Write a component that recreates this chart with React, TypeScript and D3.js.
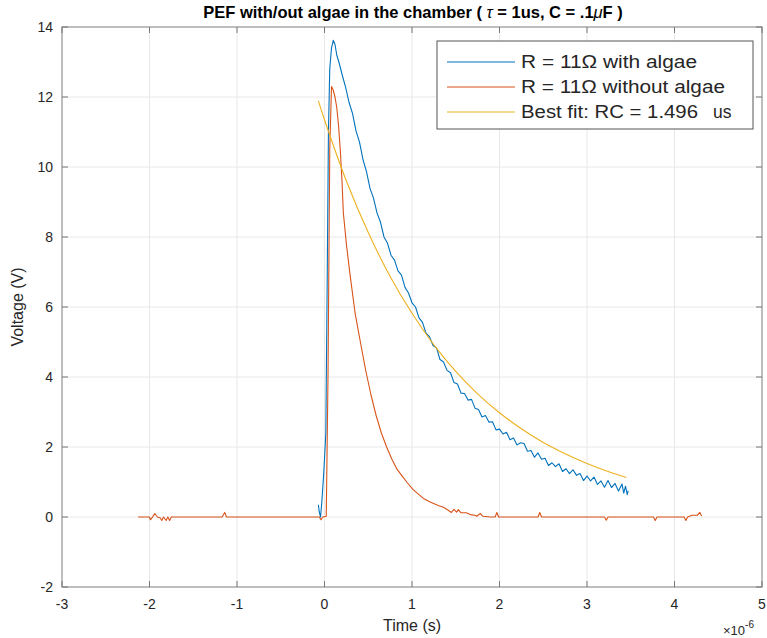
import React from 'react';
import * as d3 from 'd3';

const xTicks = [-3, -2, -1, 0, 1, 2, 3, 4, 5];
const yTicks = [-2, 0, 2, 4, 6, 8, 10, 12, 14];

// time in microseconds, voltage in V
const withAlgae: [number, number][] = [
  [-0.07, 0.35], [-0.06, 0.15], [-0.045, 0.0], [-0.03, 0.45], [-0.01, 1.2], [0.005, 1.9],
  [0.015, 2.4], [0.03, 6.5], [0.045, 11.0], [0.06, 12.8], [0.08, 13.4], [0.1, 13.62],
  [0.12, 13.5], [0.14, 13.2], [0.17, 12.95], [0.2, 12.65], [0.24, 12.29], [0.28, 11.85],
  [0.32, 11.53], [0.36, 11.03], [0.4, 10.71], [0.44, 10.21], [0.48, 9.87], [0.52, 9.39],
  [0.56, 9.11], [0.6, 8.69], [0.64, 8.42], [0.68, 8.0], [0.72, 7.82], [0.76, 7.48],
  [0.8, 7.34], [0.84, 7.03], [0.88, 6.91], [0.92, 6.56], [0.96, 6.4], [1.0, 6.12],
  [1.04, 6.0], [1.08, 5.69], [1.12, 5.56], [1.16, 5.25], [1.2, 5.15], [1.24, 4.9],
  [1.28, 4.83], [1.32, 4.5], [1.36, 4.43], [1.4, 4.19], [1.44, 4.12], [1.48, 3.84],
  [1.52, 3.8], [1.56, 3.54], [1.6, 3.53], [1.64, 3.34], [1.68, 3.36], [1.72, 3.11],
  [1.76, 3.07], [1.8, 2.86], [1.84, 2.9], [1.88, 2.71], [1.92, 2.72], [1.96, 2.49],
  [2.0, 2.51], [2.04, 2.37], [2.08, 2.42], [2.12, 2.21], [2.16, 2.26], [2.2, 2.06],
  [2.24, 2.12], [2.28, 2.1], [2.32, 1.88], [2.36, 1.9], [2.4, 1.71], [2.44, 1.83],
  [2.48, 1.65], [2.52, 1.68], [2.56, 1.47], [2.6, 1.55], [2.64, 1.44], [2.68, 1.52],
  [2.72, 1.3], [2.76, 1.38], [2.8, 1.24], [2.84, 1.35], [2.88, 1.19], [2.92, 1.24],
  [2.96, 1.04], [3.0, 1.17], [3.04, 1.03], [3.08, 1.14], [3.12, 0.93], [3.16, 1.03],
  [3.2, 0.85], [3.24, 1.04], [3.28, 0.84], [3.32, 0.96], [3.36, 0.74], [3.4, 0.94],
  [3.42, 0.68], [3.44, 0.88], [3.46, 0.64], [3.47, 0.75],
];

const withoutAlgae: [number, number][] = [
  [-2.13, 0], [-2.0, 0], [-1.99, -0.08], [-1.96, 0.02], [-1.94, 0.1], [-1.91, 0.0],
  [-1.88, -0.02], [-1.86, -0.1], [-1.84, 0.0], [-1.81, -0.1], [-1.79, 0.0], [-1.77, -0.1],
  [-1.75, 0.0], [-1.17, 0], [-1.14, 0.13], [-1.12, 0], [-0.06, 0], [-0.04, -0.08],
  [-0.02, 0], [0.02, 0.02], [0.04, 4], [0.06, 10.5], [0.08, 12.3], [0.1, 12.2],
  [0.12, 12.0], [0.14, 11.7], [0.16, 11.2], [0.18, 10.5], [0.2, 9.6], [0.215, 8.7],
  [0.25, 7.8], [0.29, 6.96], [0.35, 5.82], [0.41, 5.0], [0.47, 4.2], [0.53, 3.5],
  [0.59, 2.9], [0.65, 2.4], [0.71, 2.0], [0.77, 1.65], [0.83, 1.36], [0.89, 1.16],
  [0.94, 1.0], [1.01, 0.79], [1.07, 0.66], [1.13, 0.53], [1.19, 0.45], [1.24, 0.39],
  [1.3, 0.33], [1.36, 0.28], [1.41, 0.2], [1.45, 0.13], [1.48, 0.22], [1.51, 0.14],
  [1.53, 0.21], [1.56, 0.12], [1.62, 0.12], [1.68, 0.06], [1.72, 0.05], [1.74, 0.02],
  [1.78, 0.1], [1.81, 0.02], [1.9, 0.0], [1.95, 0.0], [1.97, 0.13], [1.99, 0.0],
  [2.44, 0], [2.46, 0.13], [2.48, 0], [3.2, 0], [3.22, -0.09], [3.24, 0], [3.76, 0],
  [3.78, -0.1], [3.8, 0], [4.11, 0], [4.13, -0.1], [4.15, 0], [4.2, 0.05], [4.26, 0.05],
  [4.29, 0.13], [4.31, 0.03],
];

const bestFit: [number, number][] = [
  [-0.07, 11.89], [0, 11.35], [0.25, 9.6], [0.5, 8.13], [0.75, 6.87], [1.0, 5.82],
  [1.25, 4.92], [1.5, 4.16], [1.75, 3.52], [2.0, 2.98], [2.25, 2.52], [2.5, 2.13],
  [2.75, 1.81], [3.0, 1.53], [3.25, 1.29], [3.45, 1.13],
];

const legendLabels = ['R = 11\u03A9 with algae', 'R = 11\u03A9 without algae', 'Best fit: RC = 1.496'];
const colors = ['#0072BD', '#D95319', '#EDB120'];

const W = 767, H = 638;
const L = 62, R = 762, T = 27, B = 587;
const font = '"Liberation Sans", Arial, Helvetica, sans-serif';

export default function App() {
  const x = d3.scaleLinear().domain([-3, 5]).range([L, R]);
  const y = d3.scaleLinear().domain([-2, 14]).range([B, T]);
  const line = d3.line<[number, number]>().x(d => x(d[0])).y(d => y(d[1]));
  const smooth = d3.line<[number, number]>().x(d => x(d[0])).y(d => y(d[1])).curve(d3.curveCatmullRom);
  const series = [line(withAlgae), line(withoutAlgae), smooth(bestFit)];
  const lx0 = 447, lx1 = 515, ly = [62, 87, 112];
  const legendLens = [176, 204, 177];

  return (
    <svg width={W} height={H} style={{ position: 'absolute', left: 0, top: 0, background: '#fff' }} fontFamily={font}>
      <rect x={0} y={0} width={W} height={H} fill="#fff" />
      {xTicks.map(t => (
        <line key={'gx' + t} x1={x(t)} x2={x(t)} y1={T} y2={B} stroke="#e8e8e8" strokeWidth={1} />
      ))}
      {yTicks.map(t => (
        <line key={'gy' + t} x1={L} x2={R} y1={y(t)} y2={y(t)} stroke="#e8e8e8" strokeWidth={1} />
      ))}
      <path d={series[1] || ''} fill="none" stroke={colors[1]} strokeWidth={1.1} strokeLinejoin="round" />
      <path d={series[0] || ''} fill="none" stroke={colors[0]} strokeWidth={1.1} strokeLinejoin="round" />
      <path d={series[2] || ''} fill="none" stroke={colors[2]} strokeWidth={1.1} />
      <rect x={L} y={T} width={R - L} height={B - T} fill="none" stroke="#9a9a9a" strokeWidth={1.2} />
      {xTicks.map(t => (
        <g key={'tx' + t}>
          <line x1={x(t)} x2={x(t)} y1={B} y2={B - 6} stroke="#777" />
          <line x1={x(t)} x2={x(t)} y1={T} y2={T + 6} stroke="#777" />
          <text x={x(t)} y={609} fontSize={14} textAnchor="middle" fill="#262626">{t}</text>
        </g>
      ))}
      {yTicks.map(t => (
        <g key={'ty' + t}>
          <line x1={L} x2={L + 6} y1={y(t)} y2={y(t)} stroke="#777" />
          <line x1={R} x2={R - 6} y1={y(t)} y2={y(t)} stroke="#777" />
          <text x={53} y={y(t) + 5} fontSize={14} textAnchor="end" fill="#262626">{t}</text>
        </g>
      ))}
      <text x={412} y={631} fontSize={16} textAnchor="middle" fill="#262626">Time (s)</text>
      <text transform={`translate(23,${(T + B) / 2}) rotate(-90)`} fontSize={16} textAnchor="middle" fill="#262626">Voltage (V)</text>
      <text x={723} y={635} fontSize={13} fill="#262626">{'\u00D710'}<tspan fontSize={10} dy={-7}>-6</tspan></text>
      <text x={413} y={18} fontSize={16.5} fontWeight="bold" textAnchor="middle" fill="#000">
        {'PEF with/out algae in the chamber ( '}
        <tspan fontStyle="italic" fontWeight="normal">{'\u03C4'}</tspan>
        {' = 1us, C = .1'}
        <tspan fontStyle="italic" fontWeight="normal">{'\u03BC'}</tspan>
        {'F )'}
      </text>
      <rect x={437} y={41} width={316} height={88} fill="#fff" stroke="#555" strokeWidth={1} />
      {legendLabels.map((lab, i) => (
        <g key={'lg' + i}>
          <line x1={lx0} x2={lx1} y1={ly[i]} y2={ly[i]} stroke={colors[i]} strokeWidth={1.1} />
          <text x={521} y={ly[i] + 6} fontSize={17.5} fill="#262626" textLength={legendLens[i]} lengthAdjust="spacingAndGlyphs">
            {lab}
          </text>
          {i === 2 ? <text x={713} y={ly[i] + 6} fontSize={17.5} fill="#262626">us</text> : null}
        </g>
      ))}
    </svg>
  );
}
